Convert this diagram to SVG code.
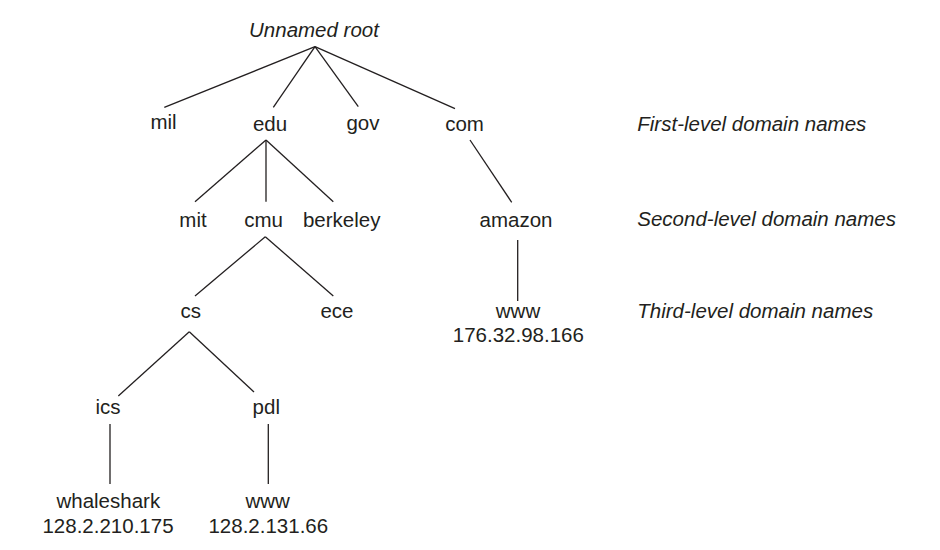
<svg xmlns="http://www.w3.org/2000/svg" width="940" height="550" viewBox="0 0 940 550">
<style>
text{font-family:"Liberation Sans",Arial,sans-serif;font-size:20.5px;fill:#231f20;text-anchor:middle}
.it{font-style:italic}
.lab{font-style:italic;text-anchor:start}
.c line{stroke:#231f20;stroke-width:1.3}
</style>
<rect width="940" height="550" fill="#fff"/>
<g id="connectors" class="c">
<line x1="315" y1="46.7" x2="164.3" y2="107.3"/>
<line x1="315" y1="46.7" x2="273.3" y2="107.3"/>
<line x1="315" y1="46.7" x2="358.3" y2="106.7"/>
<line x1="315" y1="46.7" x2="455" y2="108.7"/>
<line x1="266" y1="140" x2="195" y2="201.7"/>
<line x1="266" y1="140" x2="266" y2="201.7"/>
<line x1="266" y1="140" x2="333.3" y2="201.7"/>
<line x1="470" y1="140" x2="511.7" y2="202.3"/>
<line x1="265.3" y1="236.7" x2="195" y2="296"/>
<line x1="265.3" y1="236.7" x2="333.3" y2="296"/>
<line x1="517.7" y1="240" x2="517.7" y2="301"/>
<line x1="189.3" y1="331.7" x2="118.3" y2="396"/>
<line x1="189.3" y1="331.7" x2="254" y2="392"/>
<line x1="110" y1="424" x2="110" y2="484"/>
<line x1="268.3" y1="424" x2="268.3" y2="484"/>
</g>
<g id="root"><text class="it" x="314" y="36.7">Unnamed root</text></g>
<g id="mil"><text x="163.5" y="128.5">mil</text></g>
<g id="edu"><text x="270" y="130.5">edu</text></g>
<g id="gov"><text x="363" y="130.3">gov</text></g>
<g id="com"><text x="464.5" y="130.5">com</text></g>
<g id="mit"><text x="193" y="226.5">mit</text></g>
<g id="cmu"><text x="263.5" y="226.5">cmu</text></g>
<g id="berkeley"><text x="341.7" y="226.5">berkeley</text></g>
<g id="amazon"><text x="516" y="226.5">amazon</text></g>
<g id="cs"><text x="190.7" y="318">cs</text></g>
<g id="ece"><text x="337" y="318">ece</text></g>
<g id="amazon-www"><text x="518" y="318">www</text><text x="518.3" y="342.3">176.32.98.166</text></g>
<g id="ics"><text x="108" y="414">ics</text></g>
<g id="pdl"><text x="266.3" y="414">pdl</text></g>
<g id="whaleshark"><text x="108.3" y="508.3">whaleshark</text><text x="108" y="532.7">128.2.210.175</text></g>
<g id="pdl-www"><text x="267.7" y="508.3">www</text><text x="268.3" y="532.7">128.2.131.66</text></g>
<g id="labels">
<text class="lab" x="637.3" y="131">First-level domain names</text>
<text class="lab" x="637.3" y="226">Second-level domain names</text>
<text class="lab" x="637.3" y="318.3">Third-level domain names</text>
</g>
</svg>
